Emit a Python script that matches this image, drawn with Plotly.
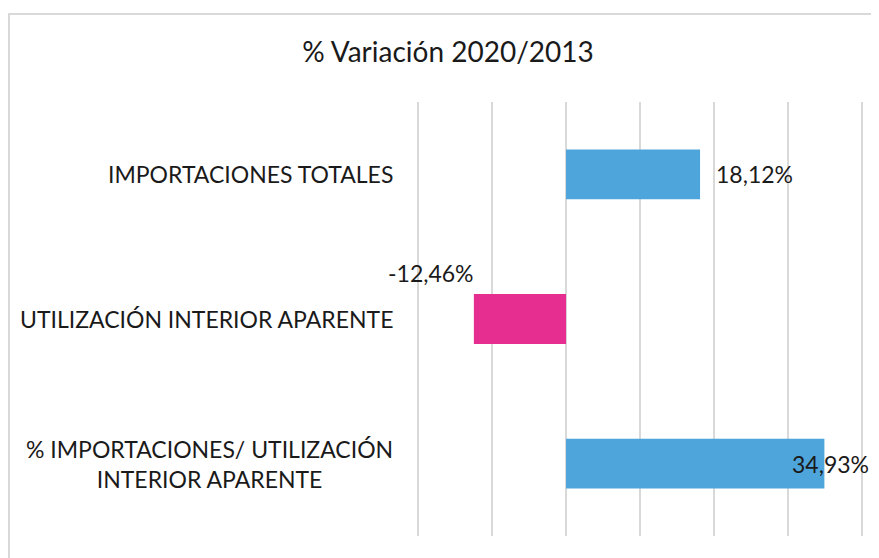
import plotly.graph_objects as go

categories = ["IMPORTACIONES TOTALES",
              "UTILIZACIÓN INTERIOR APARENTE",
              "% IMPORTACIONES/ UTILIZACIÓN<br>INTERIOR APARENTE"]
values = [18.12, -12.46, 34.93]
value_labels = ["18,12%", "-12,46%", "34,93%"]
colors = ["#4EA5DC", "#E52E8F", "#4EA5DC"]
title_text = "% Variación 2020/2013"

FONT = "Lato, Open Sans, sans-serif"
TXT = "#1a1a1a"

# page body has an 8px margin -> figure is 871x550
W, H = 871, 550
L, R, T, B = 409, 16, 94, 22
pw = W - L - R
ph = H - T - B

fig = go.Figure()
fig.add_trace(go.Bar(
    y=categories, x=values, orientation="h",
    marker=dict(color=colors, line=dict(width=0)),
    hoverinfo="skip", showlegend=False,
))

# data labels (positions as in reference)
shifts = [dict(xanchor="left", xshift=14, yshift=0),
          dict(xanchor="right", xshift=2, yshift=46),
          dict(xanchor="right", xshift=47, yshift=0)]
for c, v, t, s in zip(categories, values, value_labels, shifts):
    fig.add_annotation(x=v, y=c, xref="x", yref="y", text=t, showarrow=False,
                       font=dict(family=FONT, size=23, color=TXT),
                       xanchor=s["xanchor"], yanchor="middle",
                       xshift=s["xshift"], yshift=s["yshift"])

# category labels (centered multi-line)
for c in categories:
    fig.add_annotation(x=0, y=c, xref="paper", yref="y", text=c, showarrow=False,
                       font=dict(family=FONT, size=23, color=TXT),
                       xanchor="right", yanchor="middle", align="center",
                       xshift=-22)

# chart border
fig.add_shape(type="rect", xref="paper", yref="paper",
              x0=(1 - L) / pw, x1=1.2, y0=-0.3, y1=1 + (T - 6) / ph,
              line=dict(color="#D9D9D9", width=2), layer="below")

fig.update_layout(
    width=W, height=H,
    margin=dict(l=L, r=R, t=T, b=B),
    paper_bgcolor="white", plot_bgcolor="white",
    bargap=0.655,
    title=dict(text=title_text, xref="container", x=440 / W, y=1 - 44 / H,
               yanchor="middle", xanchor="center",
               font=dict(family=FONT, size=28, color=TXT)),
    xaxis=dict(range=[-20.15, 40.15], dtick=10, tick0=0, showgrid=True, gridcolor="#D9D9D9",
               gridwidth=2, zeroline=True, zerolinecolor="#D9D9D9", zerolinewidth=2,
               showticklabels=False, showline=False, fixedrange=True),
    yaxis=dict(autorange="reversed", showticklabels=False, showgrid=False,
               zeroline=False, showline=False, ticks=""),
)

fig.write_html("out.html")
